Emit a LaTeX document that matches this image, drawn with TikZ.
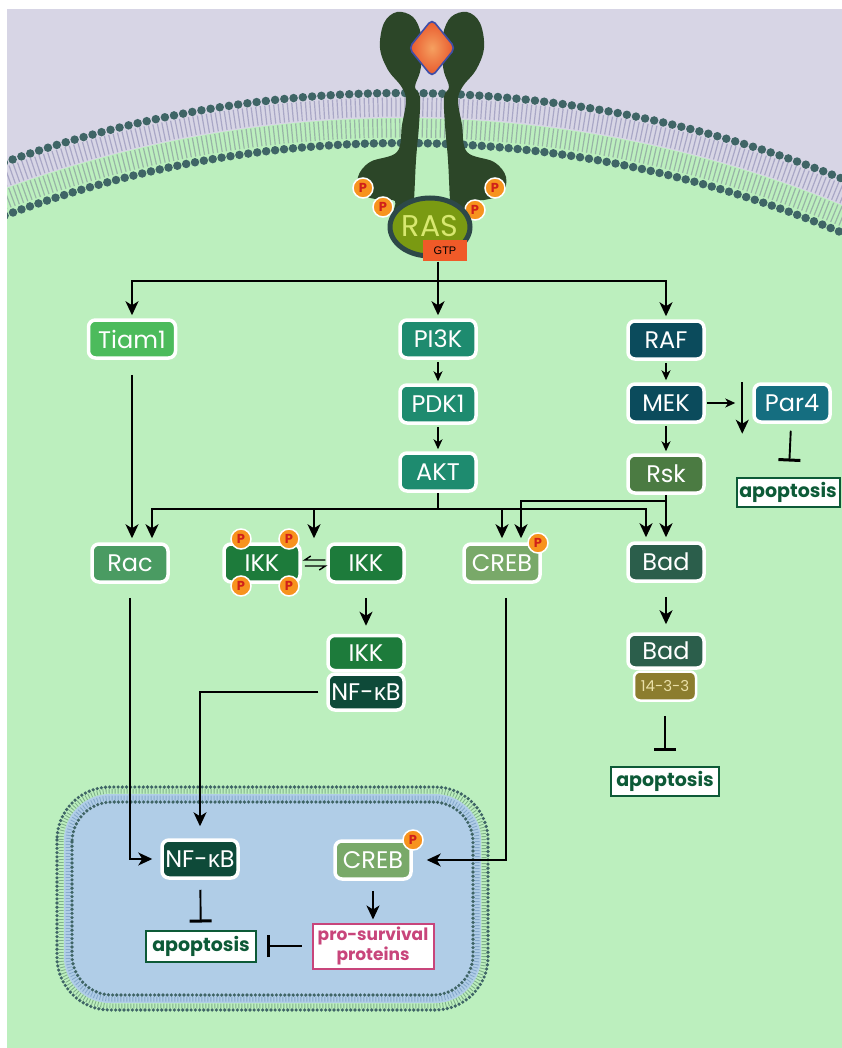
\documentclass[tikz,border=0pt]{standalone}
\usepackage{fontspec}
\setmainfont{Poppins}
\newfontfamily\gk{Open Sans}
\newfontfamily\narrowfam{Liberation Sans}
\usetikzlibrary{arrows.meta,shapes.geometric,calc}
\definecolor{lav}{HTML}{D7D5E5}
\definecolor{cyto}{HTML}{BCEFBE}
\definecolor{nucc}{HTML}{B0CDE7}
\definecolor{headc}{HTML}{3F6566}
\definecolor{otail}{HTML}{A9A7C6}
\definecolor{itail}{HTML}{98B4A6}
\definecolor{ntailg}{HTML}{7FAF8A}
\definecolor{ntailb}{HTML}{86A9CC}
\definecolor{recc}{HTML}{2C4628}
\definecolor{rasc}{HTML}{7A9A12}
\definecolor{rasb}{HTML}{2D4848}
\definecolor{rast}{HTML}{D8E870}
\definecolor{gtpc}{HTML}{F05A28}
\definecolor{dia1}{HTML}{F5A060}
\definecolor{dia2}{HTML}{E8552A}
\definecolor{diab}{HTML}{3E4EA8}
\definecolor{pcol}{HTML}{F7931E}
\definecolor{pred}{HTML}{D0201A}
\definecolor{tiamc}{HTML}{4CBB5C}
\definecolor{pic}{HTML}{1E8B6F}
\definecolor{rafc}{HTML}{0B4B5C}
\definecolor{par4c}{HTML}{156E80}
\definecolor{rskc}{HTML}{4B7B42}
\definecolor{badc}{HTML}{2B5E4B}
\definecolor{f14c}{HTML}{8C7D2E}
\definecolor{cream}{HTML}{EAE0A8}
\definecolor{racc}{HTML}{4A9B62}
\definecolor{ikkcol}{HTML}{1D7B3B}
\definecolor{nfkbcol}{HTML}{0E4A39}
\definecolor{crebc}{HTML}{79A969}
\definecolor{apoc}{HTML}{0D5A37}
\definecolor{prosc}{HTML}{C8457B}
\newcommand\myNodeFont{\fontsize{24pt}{24pt}\selectfont}
\newcommand\mySmallFont{\fontsize{15pt}{15pt}\selectfont}
\newcommand\myApoFont{\fontsize{19pt}{19pt}\selectfont\bfseries}
\newcommand\myProsFont{\fontsize{17pt}{17pt}\selectfont\bfseries}
\newcommand\myPFont{\fontsize{13pt}{13pt}\selectfont\bfseries}
\begin{document}
\begin{tikzpicture}[x=1pt,y=-1pt,
  prot/.style={rectangle, rounded corners=7pt, draw=white, line width=3.5pt, text=white,
    font=\myNodeFont, minimum width=76pt, minimum height=38pt, inner sep=1pt},
  apo/.style={rectangle, draw=apoc, line width=2pt, fill=white, text=apoc, font=\myApoFont,
    minimum width=103pt, minimum height=29pt, inner sep=0pt},
  pc/.style={circle, fill=pcol, draw=white, line width=1.5pt, minimum size=20pt, inner sep=0pt,
    text=pred, font=\myPFont},
  arr/.style={line width=1.9pt, -{Stealth[length=14pt,width=13pt,inset=4pt]}},
  sarr/.style={line width=1.6pt, -{Stealth[length=10pt,width=9pt,inset=3pt]}},
  inh/.style={line width=1.9pt, -{Bar[width=22pt,line width=3pt]}},
  heads/.style={draw=headc, line cap=round},
]
\useasboundingbox (0,0) rectangle (842,1048);
\fill[white] (0,0) rectangle (842,1048);
% ---------- background and cell membrane ----------
\begin{scope}
\clip (7,9) rectangle (842,1048);
\fill[lav] (7,9) rectangle (842,1048);
\fill[cyto] (402,1267) circle[radius=1149pt];
\draw[otail, line width=19pt, dash pattern=on 1.2pt off 3.3pt]
  plot[domain=-113:-64, samples=240] ({402+1160*cos(\x)},{1267+1160*sin(\x)});
\draw[itail, line width=19pt, dash pattern=on 1.2pt off 3.3pt]
  plot[domain=-113:-64, samples=240] ({402+1139*cos(\x)},{1267+1139*sin(\x)});
\draw[heads, line width=8.5pt, dash pattern=on 0pt off 9.3pt]
  plot[domain=-113:-64, samples=240] ({402+1174*cos(\x)},{1267+1174*sin(\x)});
\draw[heads, line width=8.5pt, dash pattern=on 0pt off 9pt]
  plot[domain=-113:-64, samples=240] ({402+1124*cos(\x)},{1267+1124*sin(\x)});
\end{scope}
% ---------- receptor ----------
\fill[recc] plot[smooth cycle, tension=0.6] coordinates {(397,12) (413,17) (421,34) (422,55) (420,72) (415,87) (420,97) (419,125) (416,160) (414,200) (412,216) (394,215) (395,201) (380,200) (362,194) (358,177) (370,162) (397,152) (402,125) (406,100) (401,86) (388,70) (380,48) (384,23)};
\begin{scope}[shift={(864,0)}, xscale=-1]
\fill[recc] plot[smooth cycle, tension=0.6] coordinates {(397,12) (413,17) (421,34) (422,55) (420,72) (415,87) (420,97) (419,125) (416,160) (414,200) (412,216) (394,215) (395,201) (380,200) (362,194) (358,177) (370,162) (397,152) (402,125) (406,100) (401,86) (388,70) (380,48) (384,23)};
\end{scope}
\node[diamond, rounded corners=5pt, minimum width=47pt, minimum height=58pt, inner sep=0pt,
  inner color=dia1, outer color=dia2, draw=diab, line width=1.6pt] (lig) at (432,48) {};
\node[pc] (pr1) at (363,188) {P};
\node[pc] (pr2) at (383,207) {P};
\node[pc] (pr3) at (475,210) {P};
\node[pc] (pr4) at (495,188) {P};
\node[ellipse, minimum width=80pt, minimum height=58pt, inner sep=0pt, fill=rasc, draw=rasb,
  line width=5pt, text=rast, font=\fontsize{30pt}{30pt}\selectfont] (ras) at (430,227) {\raisebox{2pt}{RAS}};
\node[fill=gtpc, minimum width=44pt, minimum height=21pt, inner sep=0pt,
  font=\narrowfam\fontsize{11pt}{11pt}\selectfont] (gtp) at (445,251) {GTP};
% ---------- nucleus ----------
\fill[nucc, rounded corners=46pt] (64,794) rectangle (481,1003);
\draw[ntailg, line width=5pt, dash pattern=on 0.9pt off 2.1pt, rounded corners=50pt] (61,791) rectangle (484,1006);
\draw[ntailb, line width=5pt, dash pattern=on 0.9pt off 2.1pt, rounded corners=43pt] (68,798) rectangle (477,999);
\draw[heads, line width=3.6pt, dash pattern=on 0pt off 4.2pt, rounded corners=53pt] (57,787) rectangle (488,1010);
\draw[heads, line width=3.6pt, dash pattern=on 0pt off 4.2pt, rounded corners=40pt] (72,802) rectangle (473,995);
% ---------- nodes ----------
\node[prot, fill=tiamc, minimum width=87pt] (tiam1) at (132,339) {Tiam1};
\node[prot, fill=pic] (pi3k) at (438,339) {PI3K};
\node[prot, fill=pic] (pdk1) at (438,404) {PDK1};
\node[prot, fill=pic] (akt) at (438,472) {AKT};
\node[prot, fill=rafc] (raf) at (666,340) {RAF};
\node[prot, fill=rafc] (mek) at (666,403) {MEK};
\node[prot, fill=par4c] (par4) at (792,403) {Par4};
\node[prot, fill=rskc] (rsk) at (666,474) {Rsk};
\node[apo] (apo1) at (788,492) {apoptosis};
\node[prot, fill=racc] (rac) at (130,563) {Rac};
\node[prot, fill=ikkcol] (pikk) at (262,563) {IKK};
\node[pc] (pk1) at (241,539) {P};
\node[pc] (pk2) at (289,539) {P};
\node[pc] (pk3) at (241,586) {P};
\node[pc] (pk4) at (289,586) {P};
\node[prot, fill=ikkcol] (ikk) at (366,563) {IKK};
\node[prot, fill=crebc] (creb) at (502,563) {CREB};
\node[pc] (pc1) at (538,543) {P};
\node[prot, fill=badc] (bad) at (666,562) {Bad};
\node[prot, fill=ikkcol, minimum height=35pt] (ikkc) at (366,653) {IKK};
\node[prot, fill=nfkbcol, minimum height=36pt] (nfkbc) at (366,692) {NF-{\gk κ}B};
\node[prot, fill=badc, minimum height=34pt] (bad2) at (666,651) {Bad};
\node[prot, fill=f14c, text=cream, minimum width=62pt, minimum height=29pt, line width=2.5pt,
  rounded corners=6pt, font=\mySmallFont] (f1433) at (665,686) {14-3-3};
\node[apo, minimum width=108pt] (apo2) at (665,781) {apoptosis};
\node[prot, fill=nfkbcol] (nfkbn) at (200,859) {NF-{\gk κ}B};
\node[prot, fill=crebc] (crebn) at (373,860) {CREB};
\node[pc] (pc2) at (413,840) {P};
\node[apo, minimum width=110pt, minimum height=31pt] (apo3) at (201,946) {apoptosis};
\node[rectangle, draw=prosc, line width=2pt, fill=white, text=prosc, font=\myProsFont, align=center,
  minimum width=121pt, minimum height=45pt, inner sep=0pt] (pros) at (373,946) {pro-survival\\proteins};
% ---------- connectors ----------
\coordinate (br) at (438,281);
\draw[line width=1.9pt] (gtp.south -| br) -- (br);
\draw[arr, shorten >=3pt] (br) -- (pi3k.north);
\draw[arr, shorten >=3pt] (br) -| (tiam1.north);
\draw[arr, shorten >=3pt] (br) -| (raf.north);
\draw[sarr, shorten <=2pt, shorten >=2pt] (pi3k) -- (pdk1);
\draw[sarr, shorten <=2pt, shorten >=2pt] (pdk1) -- (akt);
\draw[sarr, shorten <=2pt, shorten >=2pt] (raf) -- (mek);
\draw[sarr, shorten <=2pt, shorten >=2pt] (mek) -- (rsk);
\draw[sarr, shorten <=1pt, shorten >=17pt] (mek) -- (par4);
\draw[arr, line width=1.6pt] ($(par4.north west)+(-10,0)$) -- ($(par4.south west)+(-10,10)$);
\draw[inh, shorten <=7pt, shorten >=15pt] (par4) -- (apo1);
\draw[arr, line width=1.3pt, shorten <=15pt, shorten >=4pt] (tiam1.south) -- (tiam1.south |- rac.north);
\coordinate (ab) at (438,509);
\draw[line width=1.9pt] (akt) -- (ab);
\draw[arr, shorten >=4pt] (ab) -| ($(rac.north)+(22,0)$);
\draw[arr, shorten >=4pt] (ab) -| ($(pikk.north east)!0.5!(ikk.north west)$);
\draw[arr, shorten >=4pt] (ab) -| (creb.north);
\draw[arr, shorten >=4pt] (ab) -| ($(bad.north)+(-20,0)$);
\coordinate (rb) at (666,501);
\draw[line width=1.9pt] (rsk) -- (rb);
\draw[arr, shorten >=4pt] (rb) -| ($(creb.north)+(19,0)$);
\draw[arr, shorten >=4pt] (rb) -- (bad.north);
\draw[arr, shorten <=14pt, shorten >=8pt] (bad) -- (bad2);
\draw[inh, shorten <=14pt, shorten >=15pt] (f1433) -- (apo2);
\draw[line width=1.4pt] ($(ikk.west)+(-1,-3)$) -- ($(pikk.east)+(3,-3)$) -- ++(6,-4);
\draw[line width=1.4pt] ($(pikk.east)+(3,3)$) -- ($(ikk.west)+(-1,3)$) -- ++(-6,4);
\draw[arr, shorten <=14pt, shorten >=8pt] (ikk) -- (ikkc);
\draw[arr, line width=1.3pt, shorten <=14pt, shorten >=8pt] (rac.south) |- (nfkbn.west);
\draw[arr, line width=1.5pt, shorten <=8pt, shorten >=12pt] (nfkbc.west) -| (nfkbn.north);
\draw[arr, line width=1.3pt, shorten <=14pt, shorten >=14pt] ($(creb.south)+(4,0)$) |- (crebn.east);
\draw[inh, shorten <=10pt, shorten >=7pt] (nfkbn) -- (apo3);
\draw[arr, shorten <=10pt, shorten >=3pt] (crebn) -- (pros);
\draw[inh, shorten <=10pt, shorten >=10pt] (pros) -- (apo3);
\end{tikzpicture}
\end{document}
